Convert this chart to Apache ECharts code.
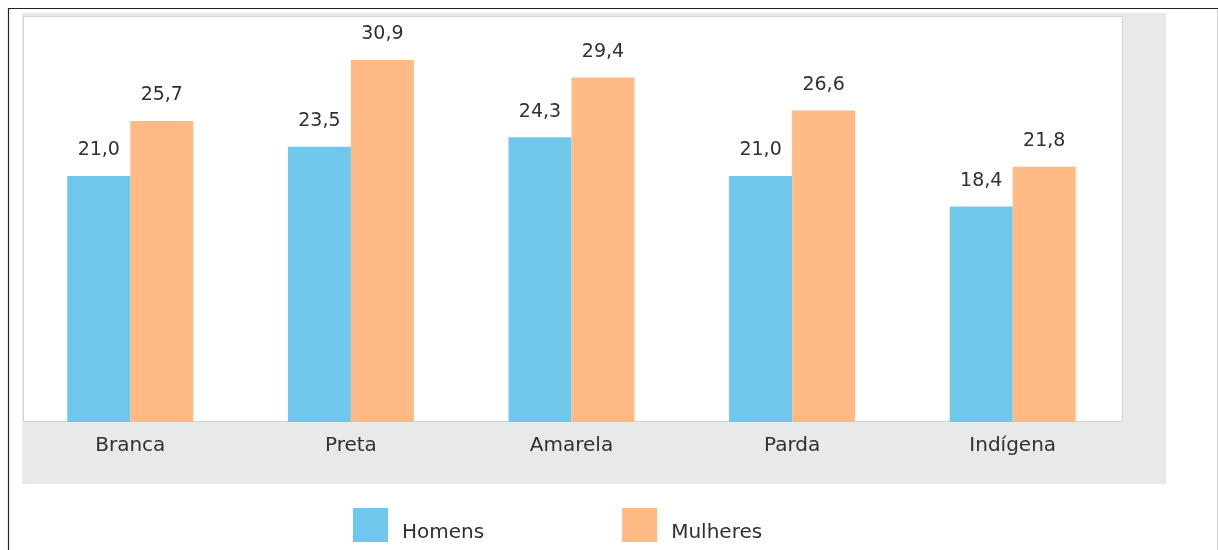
<!DOCTYPE html>
<html>
<head>
<meta charset="utf-8">
<script src="https://cdn.jsdelivr.net/npm/echarts@6/dist/echarts.min.js"></script>
<style>
  html, body { margin: 0; padding: 0; background: #fff; }
  #main { width: 1218px; height: 550px; }
</style>
</head>
<body>
<div id="main"></div>
<script>
const categories = ['Branca', 'Preta', 'Amarela', 'Parda', 'Indígena']
const homens = [21.0, 23.5, 24.3, 21.0, 18.4]
const mulheres = [25.7, 30.9, 29.4, 26.6, 21.8]

const textColor = '#2f3033'
const font = 'DejaVu Sans'

const myChart = echarts.init(document.getElementById('main'))

// valores com vírgula decimal
const fmt = (p) => p.value.toFixed(1).replace('.', ',')

myChart.setOption({
  animation: false,
  graphic: [
    // faixa cinza atrás do gráfico
    {type: 'rect', z: -10, shape: {x: 22, y: 13, width: 1144, height: 471}, style: {fill: '#e8e9e9'}},
    // área branca do gráfico
    {type: 'rect', z: -9, shape: {x: 23.5, y: 16.5, width: 1099, height: 405}, style: {fill: '#fff', stroke: '#d2d3d3', lineWidth: 1}},
    // moldura
    {type: 'line', z: -8, shape: {x1: 8, y1: 8.5, x2: 1218, y2: 8.5}, style: {stroke: '#222', lineWidth: 1.2}},
    {type: 'line', z: -8, shape: {x1: 8.5, y1: 8, x2: 8.5, y2: 550}, style: {stroke: '#222', lineWidth: 1.2}},
    {type: 'line', z: -8, shape: {x1: 1217.5, y1: 10, x2: 1217.5, y2: 550}, style: {stroke: '#cfcfcf', lineWidth: 1}}
  ],
  grid: {left: 20, right: 95, top: 16, bottom: 128},
  legend: {
    left: 348,
    top: 503,
    itemWidth: 35,
    itemHeight: 34,
    itemGap: 138,
    icon: 'rect',
    formatter: '{t|{name}}',
    textStyle: {
      fontFamily: font, fontSize: 20, color: textColor, padding: [0, 0, 0, 9],
      rich: {t: {fontFamily: font, fontSize: 20, color: textColor, padding: [16, 0, 0, 0]}}
    },
    data: ['Homens', 'Mulheres']
  },
  xAxis: {
    type: 'category',
    data: categories,
    axisLine: {show: false},
    axisTick: {show: false},
    axisLabel: {fontFamily: font, fontSize: 20, color: textColor, margin: 14}
  },
  yAxis: {
    type: 'value',
    min: 0,
    max: 34.66,
    show: false,
    splitLine: {show: false}
  },
  series: [
    {
      name: 'Homens',
      type: 'bar',
      data: homens,
      barWidth: 63,
      barGap: '0%',
      itemStyle: {color: '#6fc8ec'},
      label: {show: true, position: 'top', distance: 16, formatter: fmt, fontFamily: font, fontSize: 19, color: textColor}
    },
    {
      name: 'Mulheres',
      type: 'bar',
      data: mulheres,
      barWidth: 63,
      barGap: '0%',
      itemStyle: {color: '#ffb984'},
      label: {show: true, position: 'top', distance: 16, formatter: fmt, fontFamily: font, fontSize: 19, color: textColor}
    }
  ]
})
</script>
</body>
</html>
